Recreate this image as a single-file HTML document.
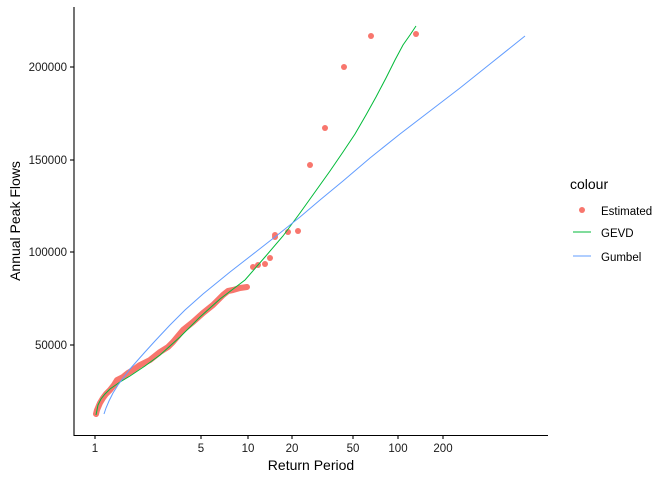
<!DOCTYPE html>
<html><head><meta charset="utf-8"><style>
body{margin:0;background:#fff}
svg{display:block;font-family:"Liberation Sans",sans-serif}
</style></head><body>
<svg width="672" height="480" viewBox="0 0 672 480">
<rect width="672" height="480" fill="#fff"/>
<path d="M96,414 L97,410 L100,403 L103,398 L106,394 L110,390 L114,385 L117,380 L123,377 L128,373 L133,370 L140,365 L150,360 L160,352 L168,347 L173,342 L178,336 L183,330 L193,322 L203,313 L208,309 L213,305 L218,300 L223,295 L228,291 L233,290 L240,288 L247,287" fill="none" stroke="#F8766D" stroke-width="6" stroke-linecap="round" stroke-linejoin="round"/>
<g fill="#F8766D">
<circle cx="253" cy="267" r="3"/><circle cx="258" cy="265" r="3"/><circle cx="265" cy="264" r="3"/>
<circle cx="275" cy="235" r="3"/><circle cx="288" cy="232" r="3"/><circle cx="298" cy="231" r="3"/>
<circle cx="310" cy="165" r="3"/><circle cx="325" cy="128" r="3"/><circle cx="344" cy="67" r="3"/>
<circle cx="371" cy="36" r="3"/><circle cx="416" cy="34" r="3"/>
<circle cx="275" cy="237" r="3"/><circle cx="270" cy="258" r="3"/>
</g>
<path d="M96,415 L98,405 L101,399 L105,394 L110,389 L120,382 L130,376 L145,366 L160,355 L180,337 L200,317 L220,299 L245,280 L265,257 L283,236 L300,213 L315,192 L330,171 L343,152 L355,134 L366,115 L376,97 L386,78 L395,60 L403,45 L410,35 L416,26" fill="none" stroke="#00BA38" stroke-width="1"/>
<path d="M104,414 L106,408 L109,401 L113,393 L118,385 L124,377 L130,369 L137,361 L145,352 L155,341 L170,325 L185,310 L203,294 L230,272 L257,251 L280,233 L300,217 L320,200 L343,181 L370,158 L400,134 L430,111 L460,88 L490,64 L525,36" fill="none" stroke="#619CFF" stroke-width="1"/>
<g stroke="#000" stroke-width="1.1">
<line x1="74" y1="7" x2="74" y2="435.5"/>
<line x1="73.5" y1="435.5" x2="548" y2="435.5"/>
<line x1="70" y1="67" x2="74" y2="67"/><line x1="70" y1="160" x2="74" y2="160"/>
<line x1="70" y1="252" x2="74" y2="252"/><line x1="70" y1="345" x2="74" y2="345"/>
<line x1="95" y1="435" x2="95" y2="439"/><line x1="201" y1="435" x2="201" y2="439"/>
<line x1="248" y1="435" x2="248" y2="439"/><line x1="292" y1="435" x2="292" y2="439"/>
<line x1="353" y1="435" x2="353" y2="439"/><line x1="398" y1="435" x2="398" y2="439"/>
<line x1="443" y1="435" x2="443" y2="439"/>
</g>
<g font-size="11.5" fill="#1a1a1a" text-anchor="end">
<text x="67" y="71">200000</text><text x="67" y="164">150000</text>
<text x="67" y="256">100000</text><text x="67" y="349">50000</text>
</g>
<g font-size="11.5" fill="#1a1a1a" text-anchor="middle">
<text x="95" y="452">1</text><text x="201" y="452">5</text><text x="248" y="452">10</text>
<text x="292" y="452">20</text><text x="353" y="452">50</text><text x="398" y="452">100</text>
<text x="443" y="452">200</text>
</g>
<text x="311" y="470" font-size="14" text-anchor="middle" fill="#000">Return Period</text>
<text transform="translate(20,221) rotate(-90)" font-size="14" text-anchor="middle" fill="#000">Annual Peak Flows</text>
<text x="570" y="189" font-size="14" fill="#000">colour</text>
<circle cx="582" cy="210" r="3" fill="#F8766D"/>
<text x="601" y="215" font-size="11.5" fill="#000">Estimated</text>
<line x1="573" y1="232" x2="591" y2="232" stroke="#00BA38"/>
<text x="601" y="237" font-size="11.5" fill="#000">GEVD</text>
<line x1="573" y1="256" x2="591" y2="256" stroke="#619CFF"/>
<text x="601" y="261" font-size="11.5" fill="#000">Gumbel</text>
</svg>
</body></html>
